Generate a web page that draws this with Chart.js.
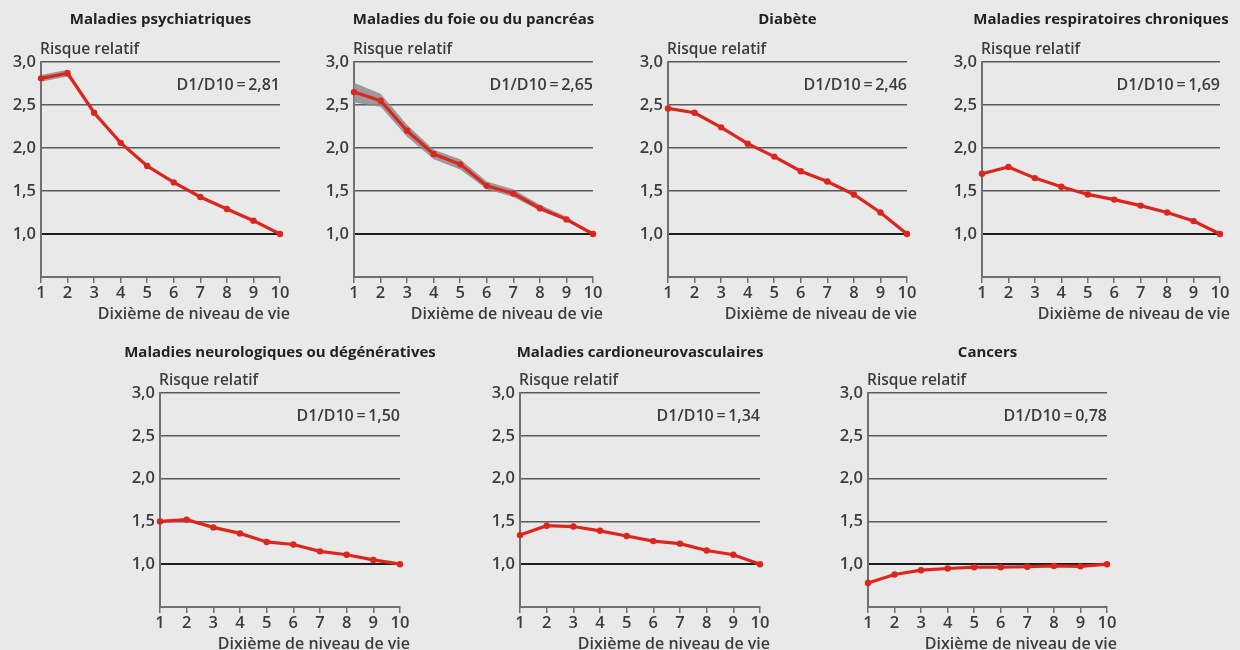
<!DOCTYPE html>
<html>
<head>
<meta charset="utf-8">
<script src="https://cdn.jsdelivr.net/npm/chart.js@4/dist/chart.umd.min.js"></script>
<style>
  body { margin: 0; background: #e9e9e9; width: 1240px; height: 650px; overflow: hidden; position: relative; }
  canvas { position: absolute; }
</style>
</head>
<body>
<script>
// deciles on the x axis
const deciles = ['1', '2', '3', '4', '5', '6', '7', '8', '9', '10'];
const yTicks = [0.5, 1.0, 1.5, 2.0, 2.5, 3.0];

// relative risk by decile
const psychiatrie = [2.81, 2.87, 2.41, 2.06, 1.79, 1.60, 1.43, 1.29, 1.155, 1.0];
const psychiatrieLow = [2.77, 2.83, 2.39, 2.04, 1.77, 1.59, 1.42, 1.28, 1.145, 1.0];
const psychiatrieHigh = [2.85, 2.91, 2.43, 2.08, 1.81, 1.61, 1.44, 1.30, 1.165, 1.0];

const foie = [2.65, 2.55, 2.20, 1.93, 1.81, 1.56, 1.47, 1.30, 1.17, 1.0];
const foieLow = [2.53, 2.48, 2.13, 1.87, 1.75, 1.52, 1.43, 1.27, 1.15, 1.0];
const foieHigh = [2.76, 2.63, 2.27, 1.98, 1.87, 1.61, 1.52, 1.34, 1.20, 1.0];

const diabete = [2.46, 2.41, 2.24, 2.05, 1.90, 1.73, 1.61, 1.46, 1.25, 1.0];
const respiratoires = [1.70, 1.78, 1.65, 1.55, 1.46, 1.40, 1.33, 1.25, 1.15, 1.0];
const neuro = [1.50, 1.52, 1.43, 1.36, 1.26, 1.23, 1.15, 1.11, 1.05, 1.0];
const cardio = [1.34, 1.45, 1.44, 1.39, 1.33, 1.27, 1.24, 1.16, 1.11, 1.0];
const cancers = [0.78, 0.88, 0.93, 0.95, 0.965, 0.965, 0.97, 0.98, 0.975, 1.0];

const titles = [
  'Maladies psychiatriques', 'Maladies du foie ou du pancréas', 'Diabète',
  'Maladies respiratoires chroniques', 'Maladies neurologiques ou dégénératives',
  'Maladies cardioneurovasculaires', 'Cancers'
];
const ratios = ['2,81', '2,65', '2,46', '1,69', '1,50', '1,34', '0,78'];

// panel placement: plot area left / right, canvas top, plot top / bottom
const panels = [
  { series: psychiatrie, low: psychiatrieLow, high: psychiatrieHigh, left: 41, right: 280, top: 0, h: 330, plotTop: 62, plotBottom: 277 },
  { series: foie, low: foieLow, high: foieHigh, left: 354, right: 593, top: 0, h: 330, plotTop: 62, plotBottom: 277 },
  { series: diabete, left: 668, right: 907, top: 0, h: 330, plotTop: 62, plotBottom: 277 },
  { series: respiratoires, left: 982, right: 1220, top: 0, h: 330, plotTop: 62, plotBottom: 277 },
  { series: neuro, left: 160, right: 400, top: 330, h: 320, plotTop: 63, plotBottom: 277 },
  { series: cardio, left: 520, right: 760, top: 330, h: 320, plotTop: 63, plotBottom: 277 },
  { series: cancers, left: 868, right: 1107, top: 330, h: 320, plotTop: 63, plotBottom: 277 }
];

const RED = '#dc261d';
const FONT = '"Open Sans", "Noto Sans", sans-serif';
const AXIS_W = 41;
const RIGHT_PAD = 50;

// draws the panel title, y label, ratio and x label around the plot area
const panelText = {
  id: 'panelText',
  afterDraw(chart, args, opts) {
    const { ctx, chartArea } = chart;
    ctx.save();
    ctx.textBaseline = 'middle';

    ctx.fillStyle = '#222';
    ctx.font = 'bold 15px ' + FONT;
    ctx.textAlign = 'center';
    ctx.fillText(opts.title, (chartArea.left + chartArea.right) / 2, chartArea.top - opts.titleGap);

    ctx.fillStyle = '#3c3c3c';
    ctx.font = '600 15.5px ' + FONT;
    ctx.textAlign = 'left';
    ctx.fillText('Risque relatif', chartArea.left - 1, chartArea.top - 12);

    ctx.textAlign = 'right';
    ctx.font = '600 16px ' + FONT;
    ctx.fillText('D1/D10\u2009=\u2009' + opts.ratio, chartArea.right, chartArea.top + 23);
    ctx.fillText('Dixième de niveau de vie', chartArea.right + 10, chartArea.bottom + 37);
    ctx.restore();
  }
};

panels.forEach((p, i) => {
  const canvas = document.createElement('canvas');
  const w = (p.right - p.left) + AXIS_W + RIGHT_PAD;
  canvas.width = w;
  canvas.height = p.h;
  canvas.style.left = (p.left - AXIS_W) + 'px';
  canvas.style.top = p.top + 'px';
  canvas.style.width = w + 'px';
  canvas.style.height = p.h + 'px';
  document.body.appendChild(canvas);

  const datasets = [{
    data: p.series,
    borderColor: RED,
    backgroundColor: RED,
    borderWidth: 3.2,
    pointRadius: 3.2,
    pointBorderWidth: 0,
    tension: 0,
    fill: false
  }];
  if (p.low) {
    datasets.push({ data: p.low, borderWidth: 0, pointRadius: 0, fill: false });
    datasets.push({ data: p.high, borderWidth: 0, pointRadius: 0, fill: '-1', backgroundColor: 'rgba(140,140,140,0.85)' });
  }

  new Chart(canvas.getContext('2d'), {
    type: 'line',
    data: { labels: deciles, datasets },
    plugins: [panelText],
    options: {
      responsive: false,
      animation: false,
      devicePixelRatio: 1,
      layout: { padding: { top: p.plotTop, right: RIGHT_PAD, left: 0, bottom: 0 } },
      plugins: {
        legend: { display: false },
        tooltip: { enabled: false },
        panelText: { title: titles[i], ratio: ratios[i], titleGap: p.top ? 40 : 42 }
      },
      scales: {
        x: {
          offset: false,
          afterFit: s => { s.height = p.h - p.plotBottom; },
          border: { display: true, color: '#707070', width: 2 },
          grid: { drawOnChartArea: false, drawTicks: true, tickLength: 6, color: '#707070', lineWidth: 1.5 },
          ticks: { color: '#3c3c3c', font: { family: FONT, size: 16.5, weight: '600' }, padding: 0, maxRotation: 0, autoSkip: false }
        },
        y: {
          min: yTicks[0],
          max: yTicks[yTicks.length - 1],
          afterFit: s => { s.width = AXIS_W; },
          afterBuildTicks: s => { s.ticks = yTicks.map(v => ({ value: v })); },
          border: { display: true, color: '#707070', width: 2 },
          grid: {
            drawTicks: false,
            color: c => c.tick.value === 1 ? '#1e1e1e' : (c.tick.value === 0.5 ? 'rgba(0,0,0,0)' : '#5a5a5a'),
            lineWidth: c => c.tick.value === 1 ? 2 : 1.5
          },
          ticks: {
            color: '#3c3c3c',
            font: { family: FONT, size: 16.5, weight: '600' },
            padding: 5,
            callback: v => v === 0.5 ? '' : v.toFixed(1).replace('.', ',')
          }
        }
      }
    }
  });
});
</script>
</body>
</html>
